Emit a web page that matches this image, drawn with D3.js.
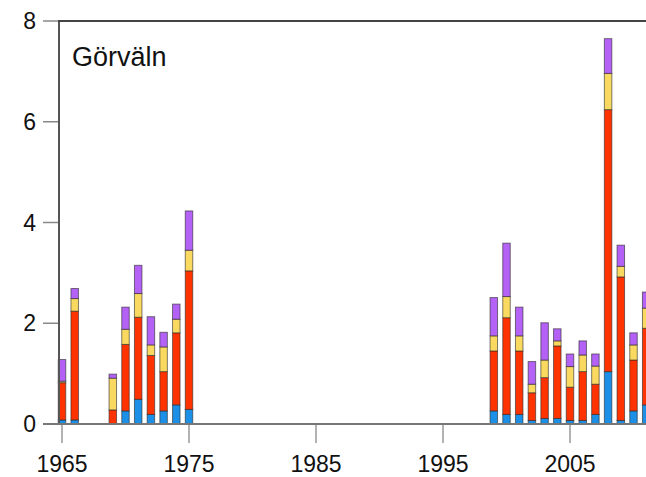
<!DOCTYPE html>
<meta charset="utf-8">

<style>
    body { margin: 0; background: #fff; overflow: hidden; }
    text { font-family: "Liberation Sans", Arial, sans-serif; fill: #111; }
</style>

<body>
    <script src="https://d3js.org/d3.v7.min.js"></script>
    <script>

    // Canvas size and plot edges
    var width = 646,
        height = 477;
    var plotLeft = 59, plotTop = 21, plotBottom = 424;

    // Data (one bar per year, four stacked parts)
    var years  = [1965, 1966, 1969, 1970, 1971, 1972, 1973, 1974, 1975,
                  1999, 2000, 2001, 2002, 2003, 2004, 2005, 2006, 2007, 2008, 2009, 2010, 2011];
    var blue   = [0.08, 0.08, 0.00, 0.26, 0.49, 0.19, 0.26, 0.38, 0.29,
                  0.26, 0.19, 0.19, 0.07, 0.11, 0.11, 0.07, 0.07, 0.19, 1.04, 0.07, 0.26, 0.38];
    var red    = [0.74, 2.16, 0.28, 1.32, 1.63, 1.17, 0.78, 1.43, 2.75,
                  1.19, 1.92, 1.26, 0.55, 0.81, 1.44, 0.66, 0.97, 0.60, 5.20, 2.85, 1.01, 1.52];
    var yellow = [0.03, 0.25, 0.63, 0.30, 0.47, 0.21, 0.49, 0.27, 0.41,
                  0.30, 0.42, 0.30, 0.17, 0.35, 0.10, 0.41, 0.33, 0.36, 0.72, 0.21, 0.30, 0.40];
    var purple = [0.43, 0.20, 0.08, 0.44, 0.56, 0.56, 0.29, 0.30, 0.78,
                  0.76, 1.06, 0.57, 0.45, 0.74, 0.24, 0.25, 0.28, 0.24, 0.69, 0.42, 0.24, 0.32];

    var yTicks = [0, 2, 4, 6, 8];
    var xTicks = [1965, 1975, 1985, 1995, 2005];
    var keys = ['blue', 'red', 'yellow', 'purple'];
    var colors = {blue: '#1c8fe6', red: '#ff3300', yellow: '#f9d95f', purple: '#b462f6'};

    var rows = years.map(function(y, i) {
        return {year: y, blue: blue[i], red: red[i], yellow: yellow[i], purple: purple[i]};
    });

    var x = d3.scaleLinear()
        .domain([1965, 2005])
        .range([62, 570]);

    var y = d3.scaleLinear()
        .domain([0, 8])
        .range([plotBottom, plotTop]);

    var barWidth = 7.5;

    var svg = d3.select("body").append("svg")
        .attr("width", width)
        .attr("height", height);

    // Bars
    var stacked = d3.stack().keys(keys)(rows);

    svg.append('g')
        .selectAll('g')
        .data(stacked)
        .enter().append('g')
        .attr('fill', function(d) { return colors[d.key]; })
        .selectAll('rect')
        .data(function(d) { return d; })
        .enter().append('rect')
        .filter(function(d) { return d[1] - d[0] > 0; })
        .attr('x', function(d) { return x(d.data.year) - barWidth / 2; })
        .attr('y', function(d) { return y(d[1]); })
        .attr('width', barWidth)
        .attr('height', function(d) { return y(d[0]) - y(d[1]); })
        .attr('stroke', 'rgba(40,40,40,0.6)')
        .attr('stroke-width', 1);

    // y axis ticks and labels
    var yAxis = svg.append('g');
    yAxis.selectAll('line')
        .data(yTicks)
        .enter().append('line')
        .attr('x1', 43).attr('x2', plotLeft)
        .attr('y1', function(d) { return y(d); })
        .attr('y2', function(d) { return y(d); })
        .attr('stroke', '#888')
        .attr('stroke-width', 1.5);
    yAxis.selectAll('text')
        .data(yTicks)
        .enter().append('text')
        .attr('x', 36)
        .attr('y', function(d) { return y(d) + 8; })
        .attr('text-anchor', 'end')
        .style('font-size', '23px')
        .text(function(d) { return d; });

    // x axis ticks and labels
    var xAxis = svg.append('g');
    xAxis.selectAll('line')
        .data(xTicks)
        .enter().append('line')
        .attr('x1', function(d) { return x(d); })
        .attr('x2', function(d) { return x(d); })
        .attr('y1', plotBottom).attr('y2', plotBottom + 19)
        .attr('stroke', '#999')
        .attr('stroke-width', 1.5);
    xAxis.selectAll('text')
        .data(xTicks)
        .enter().append('text')
        .attr('x', function(d) { return x(d); })
        .attr('y', 472)
        .attr('text-anchor', 'middle')
        .style('font-size', '23px')
        .text(function(d) { return d; });

    // Frame: left, top, bottom
    svg.append('line')
        .attr('x1', plotLeft).attr('x2', plotLeft)
        .attr('y1', plotTop).attr('y2', plotBottom)
        .attr('stroke', '#555').attr('stroke-width', 2);
    svg.append('line')
        .attr('x1', plotLeft - 1).attr('x2', width)
        .attr('y1', plotTop).attr('y2', plotTop)
        .attr('stroke', '#444').attr('stroke-width', 2);
    svg.append('line')
        .attr('x1', 43).attr('x2', width)
        .attr('y1', plotBottom).attr('y2', plotBottom)
        .attr('stroke', '#777').attr('stroke-width', 2);

    // Station name
    svg.append('text')
        .attr('x', 72)
        .attr('y', 66)
        .style('font-size', '27px')
        .text('Görväln');

</script>
</body>
